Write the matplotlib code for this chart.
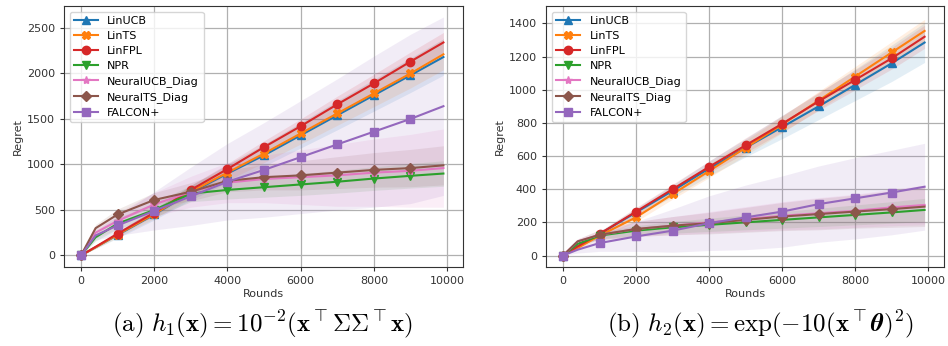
import numpy as np
import matplotlib
matplotlib.use("Agg")
import matplotlib.pyplot as plt

plt.rcParams['mathtext.fontset'] = 'cm'

# --- data ---
rounds = [0, 400, 1000, 2000, 3000, 4000, 5000, 6000, 7000, 8000, 9000, 9900]
mark_idx = [0, 2, 3, 4, 5, 6, 7, 8, 9, 10]

names = ['LinUCB', 'LinTS', 'LinFPL', 'NPR', 'NeuralUCB_Diag', 'NeuralTS_Diag', 'FALCON+']
colors = ['C0', 'C1', 'C3', 'C2', 'C6', 'C5', 'C4']
markers = ['^', 'X', 'o', 'v', '*', 'D', 's']

# panel (a): mean regret
a_linucb = [0, 90, 225, 450, 690, 900, 1100, 1320, 1540, 1760, 1980, 2180]
a_lints = [0, 90, 230, 455, 700, 910, 1120, 1340, 1560, 1780, 2000, 2210]
a_linfpl = [0, 95, 240, 470, 720, 950, 1190, 1420, 1660, 1890, 2130, 2340]
a_npr = [0, 200, 350, 500, 680, 720, 750, 780, 810, 845, 875, 900]
a_nucb = [0, 250, 380, 560, 700, 800, 840, 860, 880, 910, 930, 960]
a_nts = [0, 300, 450, 610, 700, 820, 860, 880, 910, 940, 960, 990]
a_falcon = [0, 220, 330, 490, 650, 810, 940, 1080, 1220, 1360, 1500, 1640]
# panel (a): band half-widths
a_linucb_sd = [0, 15, 35, 60, 80, 100, 120, 140, 160, 175, 190, 200]
a_lints_sd = [0, 15, 30, 50, 70, 85, 100, 115, 130, 145, 160, 170]
a_linfpl_sd = [0, 10, 20, 35, 50, 60, 70, 80, 90, 100, 105, 110]
a_npr_sd = [0, 40, 60, 80, 90, 100, 110, 120, 125, 130, 135, 140]
a_nucb_sd = [0, 60, 90, 130, 170, 220, 260, 300, 340, 370, 400, 430]
a_nts_sd = [0, 40, 60, 80, 100, 120, 140, 160, 175, 190, 205, 215]
a_falcon_sd = [0, 50, 110, 210, 320, 420, 520, 620, 720, 830, 930, 980]

# panel (b): mean regret
b_linucb = [0, 55, 130, 260, 390, 525, 650, 775, 900, 1030, 1160, 1285]
b_lints = [0, 45, 120, 230, 370, 510, 650, 790, 935, 1080, 1225, 1355]
b_linfpl = [0, 55, 130, 265, 400, 535, 665, 795, 930, 1060, 1190, 1320]
b_npr = [0, 70, 120, 150, 170, 185, 200, 215, 230, 245, 260, 275]
b_nucb = [0, 85, 125, 160, 180, 200, 220, 240, 255, 270, 290, 305]
b_nts = [0, 85, 125, 160, 180, 195, 215, 235, 250, 265, 280, 295]
b_falcon = [0, 35, 75, 115, 150, 195, 230, 265, 310, 345, 380, 415]
# panel (b): band half-widths
b_linucb_sd = [0, 8, 15, 25, 35, 45, 55, 70, 80, 95, 110, 120]
b_lints_sd = [0, 8, 15, 25, 30, 40, 45, 50, 55, 60, 65, 70]
b_linfpl_sd = [0, 8, 15, 25, 30, 35, 45, 50, 55, 60, 65, 70]
b_npr_sd = [0, 10, 20, 30, 35, 40, 45, 50, 55, 60, 65, 70]
b_nucb_sd = [0, 15, 30, 45, 55, 65, 75, 85, 95, 100, 110, 120]
b_nts_sd = [0, 15, 30, 45, 55, 65, 75, 85, 95, 100, 110, 120]
b_falcon_sd = [0, 20, 50, 90, 130, 165, 195, 215, 230, 245, 255, 262]

panel_a = [(a_linucb, a_linucb_sd), (a_lints, a_lints_sd), (a_linfpl, a_linfpl_sd),
           (a_npr, a_npr_sd), (a_nucb, a_nucb_sd), (a_nts, a_nts_sd), (a_falcon, a_falcon_sd)]
panel_b = [(b_linucb, b_linucb_sd), (b_lints, b_lints_sd), (b_linfpl, b_linfpl_sd),
           (b_npr, b_npr_sd), (b_nucb, b_nucb_sd), (b_nts, b_nts_sd), (b_falcon, b_falcon_sd)]


def draw(ax, panel, yticks):
    x = np.array(rounds)
    for (mean, sd), name, c, m in zip(panel, names, colors, markers):
        mean = np.array(mean); sd = np.array(sd)
        ax.fill_between(x, mean - sd, mean + sd, color=c, alpha=0.12, lw=0)
        ms = 5.5 if m == 'D' else 6
        ax.plot(x, mean, color=c, marker=m, markevery=mark_idx, ms=ms, lw=1.5, label=name)
    ax.grid(True, color='#b0b0b0', lw=0.9)
    ax.set_axisbelow(True)
    ax.set_xticks([0, 2000, 4000, 6000, 8000, 10000])
    ax.set_yticks(yticks)
    ax.tick_params(labelsize=8, colors='#333333', length=3)
    ax.set_xlabel('Rounds', fontsize=8, color='#333333', labelpad=2)
    ax.set_ylabel('Regret', fontsize=8, color='#333333', labelpad=3)
    for s in ax.spines.values():
        s.set_color('#333333')
    ax.legend(loc='upper left', fontsize=8, handlelength=2.2, labelspacing=0.45,
              borderpad=0.4, framealpha=0.8)


fig = plt.figure(figsize=(9.48, 3.46), dpi=100)
ax1 = fig.add_axes([0.0675, 0.228, 0.421, 0.754])
ax2 = fig.add_axes([0.576, 0.228, 0.42, 0.754])
draw(ax1, panel_a, [0, 500, 1000, 1500, 2000, 2500])
draw(ax2, panel_b, [0, 200, 400, 600, 800, 1000, 1200, 1400])
ax1.set_xlim(-464, 10437); ax1.set_ylim(-128, 2738)
ax2.set_xlim(-464, 10437); ax2.set_ylim(-70, 1504)

fig.text(0.277, 0.062, r'$\mathrm{(a)}\ h_1(\mathbf{x}) = 10^{-2}(\mathbf{x}^\top\Sigma\Sigma^\top\mathbf{x})$',
         ha='center', va='center', fontsize=18)
fig.text(0.802, 0.062, r'$\mathrm{(b)}\ h_2(\mathbf{x}) = \exp(-10(\mathbf{x}^\top\boldsymbol{\theta})^2)$',
         ha='center', va='center', fontsize=18)

fig.savefig('out.png', dpi=100)
